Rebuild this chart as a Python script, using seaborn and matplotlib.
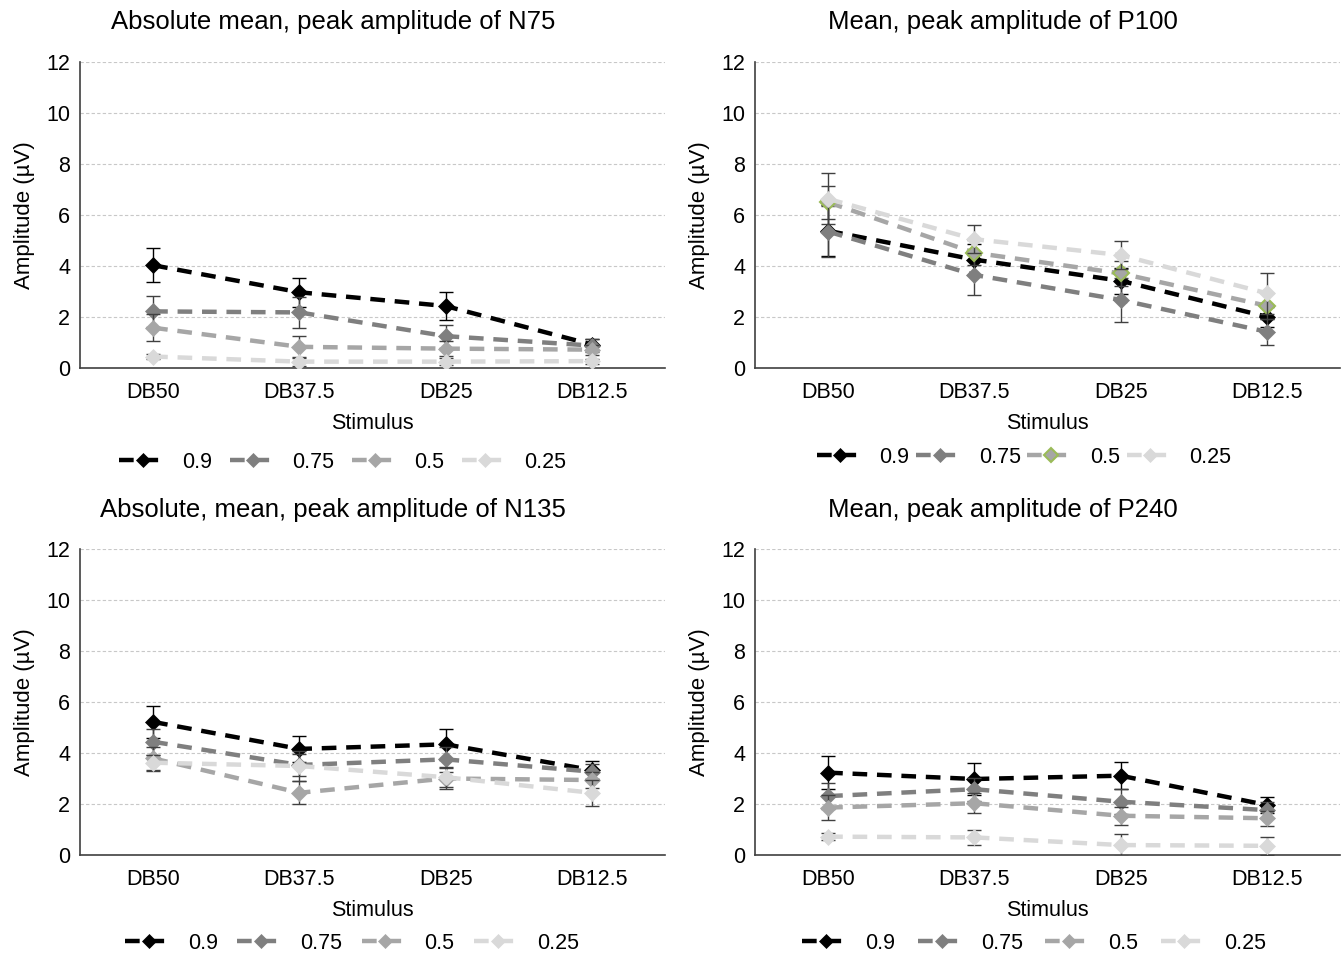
import matplotlib
matplotlib.use('Agg')
import matplotlib.pyplot as plt
import seaborn as sns
import numpy as np
import pandas as pd

# categories and series
stimulus = ['DB50', 'DB37.5', 'DB25', 'DB12.5']
levels = ['0.9', '0.75', '0.5', '0.25']
colors = ['#000000', '#7f7f7f', '#a6a6a6', '#d9d9d9']

titles = ['Absolute mean, peak amplitude of N75', 'Mean, peak amplitude of P100',
          'Absolute, mean, peak amplitude of N135', 'Mean, peak amplitude of P240']

# mean amplitudes (uV), one list per level
n75_mean = [[4.03, 2.97, 2.43, 0.92], [2.22, 2.18, 1.25, 0.88],
            [1.58, 0.83, 0.76, 0.72], [0.45, 0.25, 0.25, 0.27]]
n75_err = [[0.67, 0.57, 0.55, 0.2], [0.6, 0.62, 0.45, 0.25],
           [0.53, 0.42, 0.3, 0.2], [0.1, 0.18, 0.15, 0.1]]

p100_mean = [[5.38, 4.25, 3.42, 2.01], [5.35, 3.65, 2.67, 1.42],
             [6.5, 4.52, 3.71, 2.44], [6.63, 5.05, 4.43, 2.93]]
p100_err = [[1.0, 0.6, 0.5, 0.4], [1.0, 0.8, 0.85, 0.5],
            [0.65, 0.5, 0.5, 0.5], [1.0, 0.55, 0.55, 0.8]]

n135_mean = [[5.22, 4.16, 4.34, 3.33], [4.44, 3.53, 3.75, 3.27],
             [3.79, 2.44, 3.0, 2.94], [3.62, 3.49, 3.05, 2.44]]
n135_err = [[0.62, 0.5, 0.6, 0.35], [0.5, 0.45, 0.5, 0.3],
            [0.45, 0.45, 0.4, 0.3], [0.32, 0.6, 0.4, 0.5]]

p240_mean = [[3.23, 2.98, 3.11, 1.96], [2.31, 2.58, 2.09, 1.76],
             [1.86, 2.03, 1.54, 1.44], [0.72, 0.69, 0.39, 0.36]]
p240_err = [[0.65, 0.62, 0.52, 0.33], [0.5, 0.45, 0.5, 0.3],
            [0.5, 0.4, 0.36, 0.3], [0.15, 0.3, 0.42, 0.35]]

panels = [(n75_mean, n75_err), (p100_mean, p100_err),
          (n135_mean, n135_err), (p240_mean, p240_err)]

sns.set_theme(style='white')
plt.rcParams['font.family'] = ['Liberation Sans', 'DejaVu Sans']
plt.rcParams['text.color'] = '#000000'
plt.rcParams['axes.labelcolor'] = '#000000'

fig = plt.figure(figsize=(13.43, 9.55), dpi=100)
W, H = 1343, 955
# axes boxes in pixels: left, top, right, bottom
boxes = [(80, 62, 665, 368), (755, 62, 1340, 368),
         (80, 549, 665, 855), (755, 549, 1340, 855)]
title_pos = [(333, 22), (1003, 22), (333, 510), (1003, 510)]
legend_pos = [(343, 462), (1024, 457), (352, 943), (1034, 943)]
legend_spacing = [0.8, 0.3, 0.9, 1.05]

for k, (means, errs) in enumerate(panels):
    l, t, r, b = boxes[k]
    ax = fig.add_axes([l / W, 1 - b / H, (r - l) / W, (b - t) / H])
    for i, lev in enumerate(levels):
        df = pd.DataFrame({'Stimulus': stimulus, 'Amp': means[i]})
        ecol = '#000000' if i == 0 else '#404040'
        ax.errorbar(np.arange(4), means[i], yerr=errs[i], fmt='none',
                    ecolor=ecol, elinewidth=1, capsize=5, capthick=1, zorder=2 + i)
        green = (k == 1 and lev == '0.5')
        sns.lineplot(data=df, x='Stimulus', y='Amp', ax=ax, color=colors[i],
                     marker='D', markersize=8.5,
                     markeredgecolor='#9bbb59' if green else colors[i],
                     markeredgewidth=1.5 if green else 0.5, linewidth=3.2,
                     linestyle=(0, (3.3, 2.2)), errorbar=None, sort=False,
                     label=lev, zorder=3 + i)
    ax.set_xlim(-0.5, 3.5)
    ax.set_ylim(0, 12)
    ax.set_yticks(range(0, 13, 2))
    ax.yaxis.grid(True, color='#c8c8c8', linestyle=(0, (3, 2)), linewidth=0.8)
    ax.xaxis.grid(False)
    for s in ['top', 'right']:
        ax.spines[s].set_visible(False)
    for s in ['left', 'bottom']:
        ax.spines[s].set_color('#404040')
        ax.spines[s].set_linewidth(1.2)
    ax.tick_params(axis='both', length=0, labelsize=15.5, colors='#000000')
    ax.tick_params(axis='x', pad=10)
    ax.tick_params(axis='y', pad=7)
    ax.set_xlabel('Stimulus', fontsize=15.5, labelpad=7)
    ax.set_ylabel('Amplitude (µV)', fontsize=16, labelpad=8)
    fig.text(title_pos[k][0] / W, 1 - title_pos[k][1] / H, titles[k],
             fontsize=18.5, ha='center', va='center', color='#000000')
    lx, ly = legend_pos[k]
    leg = ax.legend(loc='center', bbox_to_anchor=((lx - l) / (r - l), (b - ly) / (b - t)),
                    ncol=4, frameon=False, fontsize=15.5, handlelength=2.2,
                    columnspacing=legend_spacing[k], handletextpad=0.72, markerscale=0.85)
    for txt in leg.get_texts():
        txt.set_color('#000000')

fig.savefig('out.png', dpi=100)
